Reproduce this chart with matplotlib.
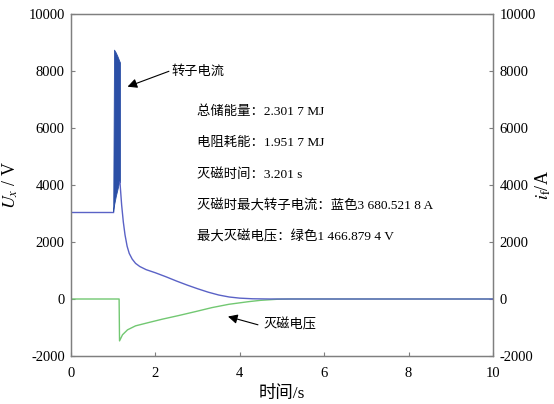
import matplotlib
matplotlib.use("Agg")
import matplotlib.pyplot as plt

plt.rcParams['font.family'] = ['Liberation Serif', 'Noto Sans CJK SC', 'DejaVu Sans']
plt.rcParams['mathtext.fontset'] = 'stix'
plt.rcParams['axes.unicode_minus'] = False

# ---------------------------------------------------------------
# data
# ---------------------------------------------------------------
# rotor current i_f (blue): flat part, oscillating band (envelope), decay
t_pre = [0.0, 1.0]
i_pre = [3070, 3070]

t_band = [1.00, 1.02, 1.06, 1.10, 1.14, 1.16]
i_band_hi = [3070, 8750, 8650, 8520, 8370, 8300]
i_band_lo = [3070, 3300, 3600, 3850, 4100, 4100]

t_decay = [1.16, 1.20, 1.24, 1.28, 1.33, 1.38, 1.45, 1.53, 1.63, 1.78, 2.0,
           2.25, 2.5, 2.75, 3.0, 3.25, 3.5, 3.75, 4.0, 4.3, 4.7, 10.0]
i_decay = [4100, 3300, 2700, 2250, 1850, 1600, 1400, 1250, 1140, 1030, 920,
           780, 630, 490, 360, 240, 140, 70, 30, 8, 0, 0]

# de-excitation voltage U_x (green)
t_u = [0.0, 1.14, 1.15, 1.22, 1.34, 1.53, 1.84, 2.16, 2.55, 2.95, 3.34,
       3.74, 4.21, 4.49, 4.88, 5.2, 10.0]
u_x = [0, 0, -1470, -1256, -1081, -942, -826, -709, -581, -442, -302,
       -186, -93, -47, -10, 0, 0]

info_lines = ["总储能量：2.301 7 MJ",
              "电阻耗能：1.951 7 MJ",
              "灭磁时间：3.201 s",
              "灭磁时最大转子电流：蓝色3 680.521 8 A",
              "最大灭磁电压：绿色1 466.879 4 V"]
info_y = [6570, 5470, 4370, 3270, 2170]

xticks = [0, 2, 4, 6, 8, 10]
yticks = [-2000, 0, 2000, 4000, 6000, 8000, 10000]

# ---------------------------------------------------------------
# plot
# ---------------------------------------------------------------
fig = plt.figure(figsize=(5.54, 4.04), dpi=100)
ax = fig.add_axes([71 / 554, 48 / 404, 422 / 554, 342 / 404])
ax2 = ax.twinx()

blue_dark = "#2b4fa6"
blue = "#5a62c6"
green = "#72c872"
grey = "#7f7f7f"

ax.plot(t_u, u_x, color=green, lw=1.0, zorder=2)

ax2.plot(t_pre, i_pre, color=blue, lw=1.0)
ax2.fill_between(t_band, i_band_lo, i_band_hi, color=blue_dark, lw=0.6,
                 edgecolor=blue_dark)
ax2.plot(t_decay, i_decay, color=blue, lw=1.0)

for a in (ax, ax2):
    a.set_xlim(0, 10)
    a.set_ylim(-2000, 10000)
    a.set_yticks(yticks)
    for s in a.spines.values():
        s.set_color(grey)
        s.set_linewidth(0.9)
ax.set_xticks(xticks)
ax.tick_params(axis='x', direction='in', length=3, color=grey,
               labelsize=10.5, pad=8)
ax.tick_params(axis='y', direction='in', length=3, color=grey,
               labelsize=10.5, pad=4.5)
ax2.tick_params(axis='y', direction='in', length=3, color=grey,
                labelsize=10.5, pad=4.5)

ax.set_xlabel("时间/s", fontsize=12.5, labelpad=4)
ax.set_ylabel(r"$U_{x}$ / V", fontsize=13)
ax.yaxis.set_label_coords(-0.121, 0.5)
ax2.set_ylabel(r"$i_{\mathrm{f}}$/A", fontsize=13)
ax2.yaxis.set_label_coords(1.097, 0.5)

# annotations
arrow = dict(arrowstyle='-|>', color='black', lw=0.8, mutation_scale=14,
             shrinkA=0, shrinkB=0)
ax2.annotate("", xy=(1.34, 7450), xytext=(2.32, 7990), arrowprops=arrow)
ax2.text(2.37, 7990, "转子电流", fontsize=9.5, va='center', ha='left')
ax.annotate("", xy=(3.72, -615), xytext=(4.43, -905), arrowprops=arrow)
ax.text(4.57, -905, "灭磁电压", fontsize=9.5, va='center', ha='left')

for txt, yy in zip(info_lines, info_y):
    ax2.text(2.98, yy, txt, fontsize=9.6, va='center', ha='left')

fig.savefig("out.png", dpi=100)
